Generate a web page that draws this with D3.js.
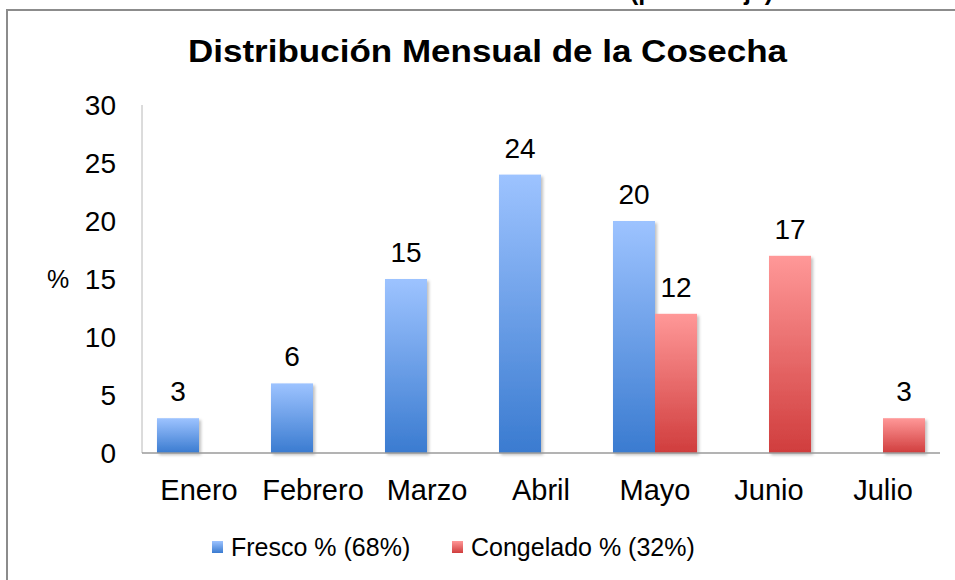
<!DOCTYPE html>
<html>
<head>
<meta charset="utf-8">
<script src="https://cdn.jsdelivr.net/npm/d3@7"></script>
<style>
  body { margin: 0; background: #fff; }
  text { font-family: "Liberation Sans", Arial, sans-serif; fill: #000; }
</style>
</head>
<body>
<div id="chart"></div>
<script>
// datos
var meses = ["Enero", "Febrero", "Marzo", "Abril", "Mayo", "Junio", "Julio"];
var fresco = [3, 6, 15, 24, 20, 0, 0];
var congelado = [0, 0, 0, 0, 12, 17, 3];
var series = ["Fresco % (68%)", "Congelado % (32%)"];
var yTicks = [0, 5, 10, 15, 20, 25, 30];

var W = 955, H = 580;
var svg = d3.select("#chart").append("svg")
	.attr("width", W)
	.attr("height", H);

var defs = svg.append("defs");
function grad(id, top, bottom) {
	var g = defs.append("linearGradient")
		.attr("id", id)
		.attr("x1", 0).attr("y1", 0)
		.attr("x2", 0).attr("y2", 1);
	g.append("stop").attr("offset", "0%").attr("stop-color", top);
	g.append("stop").attr("offset", "100%").attr("stop-color", bottom);
}
grad("gAzul", "#9dc3ff", "#3a7bd0");
grad("gRojo", "#ff9898", "#d03d3d");
defs.append("filter").attr("id", "sombra")
	.attr("x", "-20%").attr("y", "-20%").attr("width", "150%").attr("height", "150%")
	.append("feDropShadow")
	.attr("dx", 2).attr("dy", 2).attr("stdDeviation", 1.5)
	.attr("flood-color", "#000").attr("flood-opacity", 0.25);

// marco del grafico (se sale por la derecha y por abajo)
svg.append("rect")
	.attr("x", 7).attr("y", 10)
	.attr("width", 1000).attr("height", 700)
	.attr("fill", "none")
	.attr("stroke", "#8c8c8c")
	.attr("stroke-width", 2);

// texto cortado arriba (en la imagen solo se ven los trazos de abajo)
svg.append("text")
	.attr("x", 630).attr("y", 0)
	.attr("font-size", 25)
	.attr("font-weight", "bold")
	.text("(porcentaje)");

// titulo
svg.append("text")
	.attr("x", 188).attr("y", 62)
	.attr("font-size", 31)
	.attr("font-weight", "bold")
	.attr("textLength", 599)
	.attr("lengthAdjust", "spacingAndGlyphs")
	.text("Distribución Mensual de la Cosecha");

var x = d3.scaleBand()
	.domain(meses)
	.range([142, 940])
	.paddingInner(0.263)
	.paddingOuter(0.1315);

var xSub = d3.scaleBand()
	.domain([0, 1])
	.range([0, x.bandwidth()]);

var y = d3.scaleLinear()
	.domain([0, 30])
	.range([453, 105]);

// eje y
svg.append("line")
	.attr("x1", 142).attr("x2", 142)
	.attr("y1", y(30)).attr("y2", y(0))
	.attr("stroke", "#b8b8b8")
	.attr("stroke-width", 1);

svg.selectAll(".ytick")
	.data(yTicks)
	.enter().append("text")
	.attr("class", "ytick")
	.attr("x", 116)
	.attr("y", function(d) { return y(d); })
	.attr("dy", "0.36em")
	.attr("text-anchor", "end")
	.attr("font-size", 28)
	.text(function(d) { return d; });

svg.append("text")
	.attr("x", 58).attr("y", y(15))
	.attr("dy", "0.36em")
	.attr("text-anchor", "middle")
	.attr("font-size", 25)
	.text("%");

// barras
var datos = [];
meses.forEach(function(m, i) {
	datos.push({ mes: m, s: 0, v: fresco[i] });
	datos.push({ mes: m, s: 1, v: congelado[i] });
});
var conValor = datos.filter(function(d) { return d.v > 0; });

svg.selectAll(".barra")
	.data(conValor)
	.enter().append("rect")
	.attr("class", "barra")
	.attr("x", function(d) { return x(d.mes) + xSub(d.s); })
	.attr("y", function(d) { return y(d.v); })
	.attr("width", xSub.bandwidth())
	.attr("height", function(d) { return y(0) - y(d.v); })
	.attr("fill", function(d) { return d.s == 0 ? "url(#gAzul)" : "url(#gRojo)"; })
	.attr("filter", "url(#sombra)");

svg.selectAll(".valor")
	.data(conValor)
	.enter().append("text")
	.attr("class", "valor")
	.attr("x", function(d) { return x(d.mes) + xSub(d.s) + xSub.bandwidth() / 2; })
	.attr("y", function(d) { return y(d.v) - 17; })
	.attr("text-anchor", "middle")
	.attr("font-size", 28)
	.text(function(d) { return d.v; });

// eje x
svg.append("line")
	.attr("x1", 142).attr("x2", 940)
	.attr("y1", y(0)).attr("y2", y(0))
	.attr("stroke", "#9a9a9a")
	.attr("stroke-width", 1.5);

svg.selectAll(".xlab")
	.data(meses)
	.enter().append("text")
	.attr("class", "xlab")
	.attr("x", function(d) { return x(d) + x.bandwidth() / 2; })
	.attr("y", 500)
	.attr("text-anchor", "middle")
	.attr("font-size", 29)
	.text(function(d) { return d; });

// leyenda
var leyX = [212, 452];
var leyColor = ["url(#gAzul)", "url(#gRojo)"];
var ley = svg.selectAll(".ley")
	.data(series)
	.enter().append("g")
	.attr("class", "ley")
	.attr("transform", function(d, i) { return "translate(" + leyX[i] + ",547)"; });
ley.append("rect")
	.attr("x", 0).attr("y", -6)
	.attr("width", 11).attr("height", 12)
	.attr("fill", function(d, i) { return leyColor[i]; });
ley.append("text")
	.attr("x", 19).attr("y", 0)
	.attr("dy", "0.36em")
	.attr("font-size", 25)
	.text(function(d) { return d; });
</script>
</body>
</html>
